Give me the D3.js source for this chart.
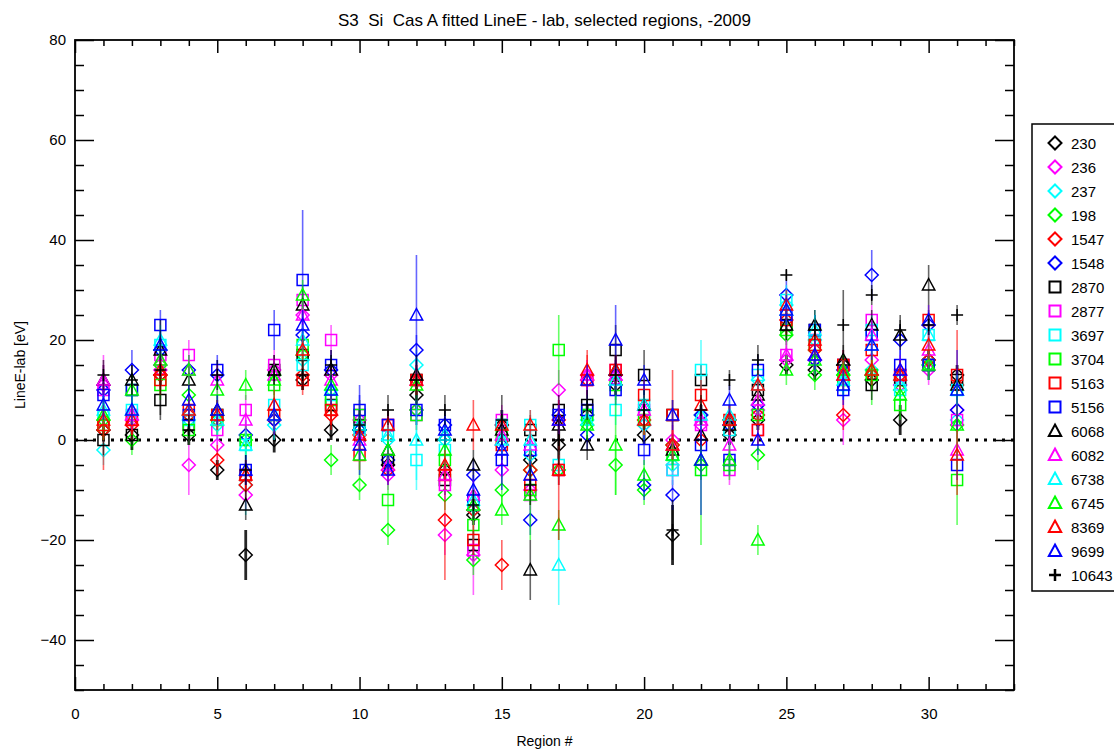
<!DOCTYPE html>
<html>
<head>
<meta charset="utf-8">
<script src="https://cdn.jsdelivr.net/npm/d3@7"></script>
<style>
body { margin: 0; background: #fff; }
svg text { font-family: "Liberation Sans", Arial, Helvetica, sans-serif; fill: #000; }
</style>
</head>
<body>
<div id="chart"></div>
<script>
// ##################################
// Cas A fitted LineE - lab, per region
// ##################################

// Regions on the x axis
const regions = [1,2,3,4,5,6,7,8,9,10,11,12,13,14,15,16,17,18,19,20,21,22,23,24,25,26,27,28,29,30,31];

// Observation ids, legend order
const obsIds = ["230","236","237","198","1547","1548","2870","2877","3697","3704","5163","5156","6068","6082","6738","6745","8369","9699","10643"];
const obsColors = ["#000000","#ff00ff","#00ffff","#00ff00","#ff0000","#0000ff",
                   "#000000","#ff00ff","#00ffff","#00ff00","#ff0000","#0000ff",
                   "#000000","#ff00ff","#00ffff","#00ff00","#ff0000","#0000ff","#000000"];
const obsMarkers = ["diamond","diamond","diamond","diamond","diamond","diamond",
                    "square","square","square","square","square","square",
                    "triangle","triangle","triangle","triangle","triangle","triangle","plus"];

// LineE - lab [eV] per region (values) and 1-sigma errors
const v230  = [2,1,13,1,-6,-23,0,12,2,2,-5,9,-6,-15,3,-4,-1,5,11,1,-19,5,1,4,15,14,15,12,4,16,13];
const e230  = [2,3,2,2,2,5,2.5,2,2,2,2,3,2,2,3,2,3,2,2,2,6,2,2,2,2,2,2,2,3,2,2];
const v236  = [11,4,14,-5,-1,-11,14,25,13,4,-7,6,-19,-23,-6,-10,10,13,12,3,0,3,4,6,16,16,4,16,11,14,6];
const e236  = [6,3,3,6,3,3,3,3,3,2,3,3,4,8,3,3,4,3,3,3,3,3,3,3,2,2,5,3,3,3,3];
const v237  = [-2,5,18,4,3,-9,3,16,10,2,0,15,0,-14,0,-3,-6,4,13,3,-5,5,3,12,27,20,12,14,12,15,4];
const e237  = [3,3,3,3,3,6,3,3,3,3,3,3,3,3,3,6,3,3,3,3,3,3,3,3,3,6,3,3,3,3,3];
const v198  = [4,0,15,9,4,0,13,17,-4,-9,-18,6,-11,-24,-10,-6,-6,3,-5,-10,-1,-5,4,-3,21,13,13,13,10,15,3];
const e198  = [3,3,3,3,3,3,3,3,3,3,3,3,3,3,3,3,3,3,6,3,3,3,3,3,3,3,3,6,3,3,3];
const v1547 = [2,3,13,5,-4,-9,4,13,5,1,-6,12,-16,-14,-25,-6,4,12,13,4,-1,0,4,5,24,18,5,13,13,16,11];
const e1547 = [8,3,3,3,3,3,3,3,3,3,3,3,12,3,5,3,3,6,3,3,3,3,3,3,3,3,3,3,3,4,3];
const v1548 = [10,14,18,14,13,1,4,21,14,2,-4,18,3,-7,-1,-16,5,1,13,-9,-11,5,3,7,29,16,14,33,20,23,6];
const e1548 = [3,4,3,3,3,3,3,3,3,9,3,3,3,3,3,3,3,3,3,3,3,3,3,3,3,3,3,5,3,3,3];
const v2870 = [0,1,8,3,5,-7,14,17,7,3,-4,12,-8,-21,3,2,6,7,18,13,5,12,3,10,23,22,15,11,12,15,12];
const e2870 = [3,3,3,3,3,3,3,3,3,3,3,3,3,3,3,3,3,3,5,5,3,3,3,3,3,3,3,3,3,3,3];
const v2877 = [10,5,17,17,2,6,15,28,20,5,3,5,-9,-22,4,-11,-6,12,14,6,-6,3,-6,2,17,20,15,24,13,15,4];
const e2877 = [3,3,3,3,3,3,3,3,3,3,3,3,3,3,3,3,3,3,3,3,3,3,3,3,3,3,3,3,3,3,3];
const v3697 = [5,6,19,4,5,-1,7,15,9,2,1,-4,-2,-13,3,3,-5,5,6,7,-6,14,2,13,28,21,11,22,10,21,10];
const e3697 = [3,3,3,3,3,3,3,3,3,3,3,6,3,3,3,3,3,3,3,3,3,6,3,3,3,3,3,3,3,3,3];
const v3704 = [3,10,11,2,4,0,11,19,8,5,-12,5,-4,-17,1,-10,18,5,11,4,-3,-6,-5,5,22,19,12,13,7,15,-8];
const e3704 = [3,3,3,3,3,3,3,3,3,3,3,3,3,3,3,3,7,3,3,3,3,15,3,3,3,3,3,3,3,3,9];
const v5163 = [3,4,12,6,5,-7,5,12,6,-3,3,12,-7,-20,-1,-9,-6,12,14,9,5,9,4,2,24,19,15,18,13,24,13];
const e5163 = [3,3,3,3,3,3,3,3,3,3,3,3,3,3,3,3,3,3,3,3,9,3,3,3,3,3,3,3,3,3,9];
const v5156 = [9,10,23,5,14,-6,22,32,15,6,3,6,3,-12,-4,-2,5,6,10,-2,null,-1,-4,14,25,22,10,21,15,15,-5];
const e5156 = [3,3,3,3,3,3,4,14,3,3,3,3,3,3,3,3,3,3,3,3,3,3,3,3,3,3,3,3,3,3,3];
const v6068 = [12,12,18,12,6,-13,14,27,14,3,-2,13,1,-5,2,-26,3,-1,14,7,-2,1,3,9,23,23,16,23,21,31,11];
const e6068 = [3,3,3,3,3,3,3,3,3,3,3,3,3,3,3,6,3,3,3,3,3,3,3,3,3,3,3,3,3,4,3];
const v6082 = [12,5,16,14,12,4,13,25,12,0,-5,12,-7,-11,1,-1,4,13,13,6,-1,4,-1,8,17,17,13,21,14,18,-2];
const e6082 = [3,3,3,3,3,3,3,3,3,3,3,3,3,3,3,3,3,3,3,3,3,3,3,3,3,3,3,3,3,3,3];
const v6738 = [6,6,20,6,4,-1,5,20,10,3,1,0,1,-12,0,0,-25,4,12,7,-3,5,5,11,26,22,12,19,11,21,10];
const e6738 = [3,3,3,3,3,3,3,3,3,3,3,8,3,3,3,3,8,3,3,3,3,3,3,3,3,3,3,3,3,3,3];
const v6745 = [5,10,16,14,10,11,12,29,11,-3,-2,11,-2,-13,-14,-11,-17,3,-1,-7,-3,-4,-4,-20,14,16,14,14,9,15,3];
const e6745 = [3,3,3,3,3,3,3,3,3,3,3,3,3,3,3,9,3,3,10,3,3,3,3,3,3,3,3,3,3,3,9];
const v8369 = [4,4,14,6,5,-7,7,18,6,1,3,12,-5,3,3,3,-6,14,14,4,-1,7,4,11,27,20,13,14,13,19,-3];
const e8369 = [3,3,3,3,3,3,3,3,3,3,3,3,3,5,3,3,14,3,3,3,3,3,3,3,3,3,3,3,3,3,8];
const v9699 = [7,6,19,8,6,-6,5,23,10,-1,-6,25,2,-10,-2,-7,4,12,20,12,5,-4,8,0,26,17,11,19,14,24,10];
const e9699 = [3,3,3,3,3,3,3,3,3,3,3,12,3,3,8,3,3,3,7,3,3,11,3,3,3,3,3,3,3,3,8];
const v10643 = [13,12,14,2,13,-6,13,13,15,3,6,12,6,-13,4,-9,0,7,13,6,-18,6,12,16,33,22,23,29,22,23,25];
const e10643 = [3,3,10,3,3,3,2,3,3,3,3,5,3,3,5,4,5,3,4,4,6,3,2,3,1,2,7,2,3,2,2];

// Axis ticks
const xMajor = [0,5,10,15,20,25,30];
const yMajor = [-40,-20,0,20,40,60,80];

const values = [v230,v236,v237,v198,v1547,v1548,v2870,v2877,v3697,v3704,v5163,v5156,v6068,v6082,v6738,v6745,v8369,v9699,v10643];
const errors = [e230,e236,e237,e198,e1547,e1548,e2870,e2877,e3697,e3704,e5163,e5156,e6068,e6082,e6738,e6745,e8369,e9699,e10643];

// Build series table
const series = obsIds.map((id, i) => ({
    id: id,
    color: obsColors[i],
    marker: obsMarkers[i],
    thick: obsColors[i] === "#000000" && obsMarkers[i] === "diamond",
    points: regions.map((r, j) => ({region: r, val: values[i][j], err: errors[i][j]}))
                   .filter(p => p.val !== null)
}));

// Store values for svg creation
const W = 1114, H = 750;
const pLeft = 75, pRight = 1014, pTop = 40, pBottom = 690;

const svg = d3.select("#chart").append("svg")
    .attr("width", W)
    .attr("height", H);

const xScale = d3.scaleLinear().domain([0, 33]).range([pLeft, pRight]);
const yScale = d3.scaleLinear().domain([-50, 80]).range([pBottom, pTop]);

// marker shapes
function markerPath(type) {
    if (type === "diamond") return "M0,-6.5L6.5,0L0,6.5L-6.5,0Z";
    if (type === "square") return "M-5.5,-5.5H5.5V5.5H-5.5Z";
    if (type === "triangle") return "M0,-6.5L6.2,5L-6.2,5Z";
    return "M-6,0H6M0,-6V6";
}

// Axes (ticks point inward, IDL style)
const xMinor = d3.range(0, 34).filter(d => d % 5 !== 0);
const yMinor = d3.range(-50, 81, 5).filter(d => d % 20 !== 0);

function styleAxis(g) {
    g.select(".domain").remove();
    g.selectAll(".tick line").attr("stroke", "#000").attr("stroke-width", 1.5);
    g.selectAll("text").style("font-size", "15px").attr("fill", "#000")
        .style("font-family", "'Liberation Sans', Arial, sans-serif");
}

svg.append("g").attr("transform", "translate(0," + pBottom + ")")
    .call(d3.axisBottom(xScale).tickValues(xMajor).tickSize(-13).tickPadding(18).tickFormat(d3.format("d")))
    .call(styleAxis);
svg.append("g").attr("transform", "translate(0," + pBottom + ")")
    .call(d3.axisBottom(xScale).tickValues(xMinor).tickSize(-6).tickFormat(""))
    .call(styleAxis);
svg.append("g").attr("transform", "translate(0," + pTop + ")")
    .call(d3.axisTop(xScale).tickValues(xMajor).tickSize(-13).tickFormat(""))
    .call(styleAxis);
svg.append("g").attr("transform", "translate(0," + pTop + ")")
    .call(d3.axisTop(xScale).tickValues(xMinor).tickSize(-6).tickFormat(""))
    .call(styleAxis);

svg.append("g").attr("transform", "translate(" + pLeft + ",0)")
    .call(d3.axisLeft(yScale).tickValues(yMajor).tickSize(-19).tickPadding(9).tickFormat(d3.format("d")))
    .call(styleAxis);
svg.append("g").attr("transform", "translate(" + pLeft + ",0)")
    .call(d3.axisLeft(yScale).tickValues(yMinor).tickSize(-9).tickFormat(""))
    .call(styleAxis);
svg.append("g").attr("transform", "translate(" + pRight + ",0)")
    .call(d3.axisRight(yScale).tickValues(yMajor).tickSize(-19).tickFormat(""))
    .call(styleAxis);
svg.append("g").attr("transform", "translate(" + pRight + ",0)")
    .call(d3.axisRight(yScale).tickValues(yMinor).tickSize(-9).tickFormat(""))
    .call(styleAxis);

// frame
svg.append("rect")
    .attr("x", pLeft).attr("y", pTop)
    .attr("width", pRight - pLeft).attr("height", pBottom - pTop)
    .attr("fill", "none").attr("stroke", "#000").attr("stroke-width", 1.8);

// zero line
svg.append("line")
    .attr("x1", pLeft).attr("x2", pRight)
    .attr("y1", yScale(0)).attr("y2", yScale(0))
    .attr("stroke", "#000").attr("stroke-width", 3)
    .attr("stroke-dasharray", "3,6");

// Plot error bars + markers, series by series
series.forEach(s => {
    const g = svg.append("g").attr("class", "series");
    g.selectAll("line")
        .data(s.points)
        .join("line")
        .attr("x1", d => xScale(d.region))
        .attr("x2", d => xScale(d.region))
        .attr("y1", d => yScale(d.val - d.err))
        .attr("y2", d => yScale(d.val + d.err))
        .attr("stroke", s.color)
        .attr("stroke-opacity", s.thick ? 0.85 : 0.6)
        .attr("stroke-width", s.thick ? 2.8 : 1.6);
    g.selectAll("path")
        .data(s.points)
        .join("path")
        .attr("transform", d => "translate(" + xScale(d.region) + "," + yScale(d.val) + ")")
        .attr("d", markerPath(s.marker))
        .attr("fill", "none")
        .attr("stroke", s.color)
        .attr("stroke-width", 1.5);
});

// Title and axis labels
svg.append("text")
    .attr("x", (pLeft + pRight) / 2).attr("y", 26)
    .attr("text-anchor", "middle")
    .style("font-size", "17px")
    .style("white-space", "pre")
    .text("S3  Si  Cas A fitted LineE - lab, selected regions, -2009");

svg.append("text")
    .attr("x", (pLeft + pRight) / 2).attr("y", 746)
    .attr("text-anchor", "middle")
    .style("font-size", "14px")
    .text("Region #");

svg.append("text")
    .attr("transform", "translate(25," + ((pTop + pBottom) / 2) + ") rotate(-90)")
    .attr("text-anchor", "middle")
    .style("font-size", "14px")
    .text("LineE-lab [eV]");

// Legend
const lg = svg.append("g");
lg.append("rect")
    .attr("x", 1032).attr("y", 124)
    .attr("width", 120).attr("height", 467)
    .attr("fill", "#fff").attr("stroke", "#000").attr("stroke-width", 1.5);

const items = lg.selectAll("g.item")
    .data(series)
    .join("g")
    .attr("class", "item")
    .attr("transform", (d, i) => "translate(1055," + (143 + i * 24) + ")");
items.append("path")
    .attr("d", d => markerPath(d.marker))
    .attr("fill", "none")
    .attr("stroke", d => d.color)
    .attr("stroke-width", d => d.marker === "plus" ? 2.5 : 2);
items.append("text")
    .attr("x", 16).attr("y", 5.5)
    .style("font-size", "15px")
    .text(d => d.id);
</script>
</body>
</html>
